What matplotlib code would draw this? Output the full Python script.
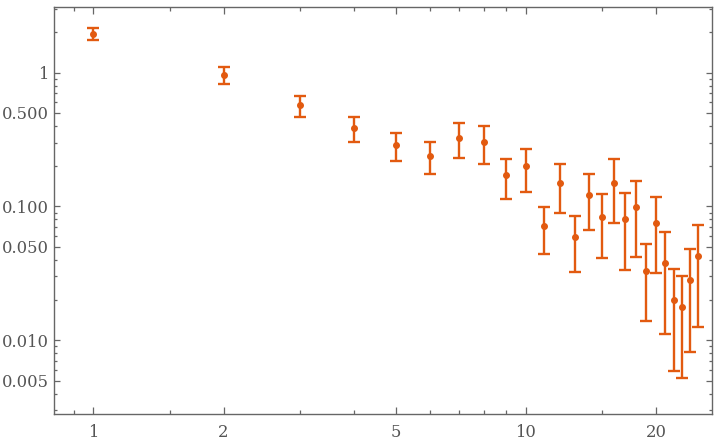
import matplotlib
matplotlib.use("Agg")
import matplotlib.pyplot as plt
from matplotlib.ticker import FixedLocator, FixedFormatter, NullFormatter

# data (log-log, symmetric error bars)
n = list(range(1, 26))
value = [1.96, 0.966, 0.571, 0.386, 0.288, 0.240, 0.327, 0.304, 0.171, 0.199,
         0.072, 0.149, 0.059, 0.121, 0.083, 0.151, 0.080, 0.099, 0.0332, 0.075,
         0.038, 0.0201, 0.0177, 0.0282, 0.0428]
err = [0.20, 0.143, 0.102, 0.083, 0.069, 0.065, 0.096, 0.096, 0.057, 0.071,
       0.0278, 0.060, 0.0265, 0.054, 0.0417, 0.0754, 0.0466, 0.057, 0.0192, 0.043,
       0.0268, 0.0142, 0.0125, 0.020, 0.0303]

x_major = [1, 2, 5, 10, 20]
x_minor = [0.9, 1.5, 3, 4, 6, 7, 8, 9, 15]
y_major = [1, 0.5, 0.1, 0.05, 0.01, 0.005]
y_labels = ["1", "0.500", "0.100", "0.050", "0.010", "0.005"]
y_minor = [3, 2, 0.9, 0.8, 0.7, 0.6, 0.4, 0.3, 0.2,
           0.09, 0.08, 0.07, 0.06, 0.04, 0.03, 0.02,
           0.009, 0.008, 0.007, 0.006, 0.004, 0.003]

color = "#e25a10"
axcol = "#666666"

fig = plt.figure(figsize=(7.2, 4.44), dpi=100)
ax = fig.add_axes([0.0754, 0.0669, 0.9139, 0.9167])

ax.errorbar(n, value, yerr=err, fmt="o", color=color, ms=4, elinewidth=1.7,
            capsize=4.5, capthick=1.7)

ax.set_xscale("log")
ax.set_yscale("log")
ax.set_xlim(0.812, 27.0)
ax.set_ylim(0.0028, 3.08)

ax.xaxis.set_major_locator(FixedLocator(x_major))
ax.xaxis.set_major_formatter(FixedFormatter([str(v) for v in x_major]))
ax.xaxis.set_minor_locator(FixedLocator(x_minor))
ax.xaxis.set_minor_formatter(NullFormatter())
ax.yaxis.set_major_locator(FixedLocator(y_major))
ax.yaxis.set_major_formatter(FixedFormatter(y_labels))
ax.yaxis.set_minor_locator(FixedLocator(y_minor))
ax.yaxis.set_minor_formatter(NullFormatter())

for s in ax.spines.values():
    s.set_color(axcol)
    s.set_linewidth(1.0)

ax.tick_params(which="both", direction="in", top=True, right=True, color=axcol,
               labelcolor="#555555", width=0.9)
ax.tick_params(axis="x", which="major", length=5, pad=7)
ax.tick_params(axis="x", which="minor", length=3)
ax.tick_params(axis="y", which="major", length=4, pad=4)
ax.tick_params(axis="y", which="minor", length=2.5)
for lab in ax.get_xticklabels() + ax.get_yticklabels():
    lab.set_family("DejaVu Serif")
    lab.set_fontsize(11.8)

fig.savefig("out.png", dpi=100, facecolor="white")
